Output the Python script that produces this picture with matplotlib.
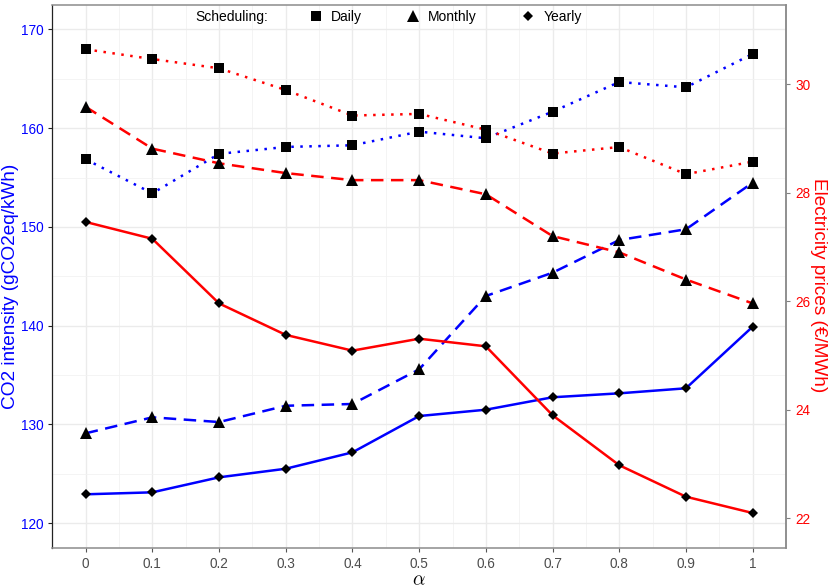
import numpy as np
import matplotlib
matplotlib.use("Agg")
import matplotlib.pyplot as plt
from matplotlib.lines import Line2D

plt.rcParams['font.family'] = ['Liberation Sans', 'DejaVu Sans']
plt.rcParams['mathtext.fontset'] = 'cm'

# data
alpha = [0, 0.1, 0.2, 0.3, 0.4, 0.5, 0.6, 0.7, 0.8, 0.9, 1.0]
alpha_labels = ['0', '0.1', '0.2', '0.3', '0.4', '0.5', '0.6', '0.7', '0.8', '0.9', '1']

co2_daily = [156.85, 153.4, 157.4, 158.1, 158.27, 159.65, 158.98, 161.67, 164.68, 164.14, 167.52]
co2_monthly = [129.09, 130.71, 130.23, 131.88, 132.06, 135.57, 143.0, 145.36, 148.67, 149.76, 154.48]
co2_yearly = [122.91, 123.11, 124.63, 125.5, 127.16, 130.84, 131.48, 132.74, 133.14, 133.65, 139.89]

price_daily = [30.64, 30.46, 30.29, 29.89, 29.42, 29.45, 29.16, 28.72, 28.84, 28.34, 28.57]
price_monthly = [29.58, 28.81, 28.54, 28.36, 28.23, 28.23, 27.97, 27.2, 26.9, 26.4, 25.96]
price_yearly = [27.46, 27.15, 25.96, 25.38, 25.09, 25.31, 25.17, 23.9, 22.98, 22.4, 22.1]

co2_ticks = [120, 130, 140, 150, 160, 170]
price_ticks = [22, 24, 26, 28, 30]

schedules = ['Daily', 'Monthly', 'Yearly']

BLUE = '#0000FF'
RED = '#FF0000'
LW = 1.8
styles = {
    'Daily': dict(ls=(0, (1, 2.6)), marker='s', ms=6.6),
    'Monthly': dict(ls=(0, (5, 3)), marker='^', ms=8.4),
    'Yearly': dict(ls='-', marker='D', ms=5.0),
}


def draw_series(ax, y, sched, color):
    st = styles[sched]
    ax.plot(alpha, y, color=color, lw=LW, linestyle=st['ls'], zorder=2)
    ax.plot(alpha, y, linestyle='none', marker=st['marker'], ms=st['ms'],
            mfc='black', mec='black', mew=0, zorder=3)


fig = plt.figure(figsize=(8.3, 5.88), dpi=100)
W, H = 830, 588
x0, x1, y0, y1 = 52.3, 786, 5.3, 548.3
ax = fig.add_axes([x0 / W, 1 - y1 / H, (x1 - x0) / W, (y1 - y0) / H])
ax2 = ax.twinx()

ax.set_xlim(-0.05, 1.05)
ax.set_ylim(117.44, 172.45)
ax2.set_ylim(21.45, 31.45)

ax.set_xticks(alpha)
ax.set_xticklabels(alpha_labels)
ax.set_xticks(np.arange(-0.05, 1.06, 0.1), minor=True)
ax.set_yticks(co2_ticks)
ax.set_yticks([125, 135, 145, 155, 165], minor=True)
ax2.set_yticks(price_ticks)

ax.grid(which='major', color='#ebebeb', lw=1.0)
ax.grid(which='minor', color='#f2f2f2', lw=0.6)
ax.set_axisbelow(True)
ax.tick_params(which='minor', length=0)
ax2.tick_params(which='minor', length=0)

ax.tick_params(axis='y', which='major', colors=BLUE, labelsize=9.8, length=3, width=0.8)
ax.tick_params(axis='y', which='major', color='#222222')
ax.tick_params(axis='x', which='major', labelcolor='#4d4d4d', labelsize=9.8,
               length=3, width=0.8, color='#555555')
ax2.tick_params(axis='y', which='major', labelcolor=RED, labelsize=9.8, length=3,
                width=0.8, color='#808080')

for name in ['top', 'right', 'bottom']:
    ax.spines[name].set_color('#8c8c8c')
    ax.spines[name].set_linewidth(1.1)
ax.spines['left'].set_color('#222222')
ax.spines['left'].set_linewidth(0.9)
for name in ['top', 'left', 'bottom']:
    ax2.spines[name].set_visible(False)
ax2.spines['right'].set_color('#8c8c8c')
ax2.spines['right'].set_linewidth(1.1)

draw_series(ax, co2_daily, 'Daily', BLUE)
draw_series(ax, co2_monthly, 'Monthly', BLUE)
draw_series(ax, co2_yearly, 'Yearly', BLUE)
draw_series(ax2, price_daily, 'Daily', RED)
draw_series(ax2, price_monthly, 'Monthly', RED)
draw_series(ax2, price_yearly, 'Yearly', RED)

fig.text(10.5 / W, 1 - 286 / H, 'CO2 intensity (gCO2eq/kWh)', color=BLUE,
         rotation=90, ha='center', va='center', fontsize=13.7)
fig.text(818 / W, 1 - 285 / H, 'Electricity prices (€/MWh)', color=RED,
         rotation=270, ha='center', va='center', fontsize=13.7)
fig.text(419 / W, 1 - 581 / H, r'$\alpha$', ha='center', va='center', fontsize=14)

# legend along the top
fig.text(195 / W, 1 - 17 / H, 'Scheduling:', ha='left', va='center', fontsize=10)
handles = [Line2D([], [], linestyle='none', marker=styles[s]['marker'],
                  ms=styles[s]['ms'], mfc='black', mec='black', mew=0)
           for s in schedules]
leg = ax2.legend(handles, schedules, ncol=3, loc='center left', frameon=False,
                 bbox_to_anchor=(309 / W, 1 - 17 / H), bbox_transform=fig.transFigure,
                 fontsize=10, handlelength=1, handletextpad=0.58, columnspacing=3.2,
                 borderpad=0, borderaxespad=0)

fig.savefig('out.png', dpi=100)
